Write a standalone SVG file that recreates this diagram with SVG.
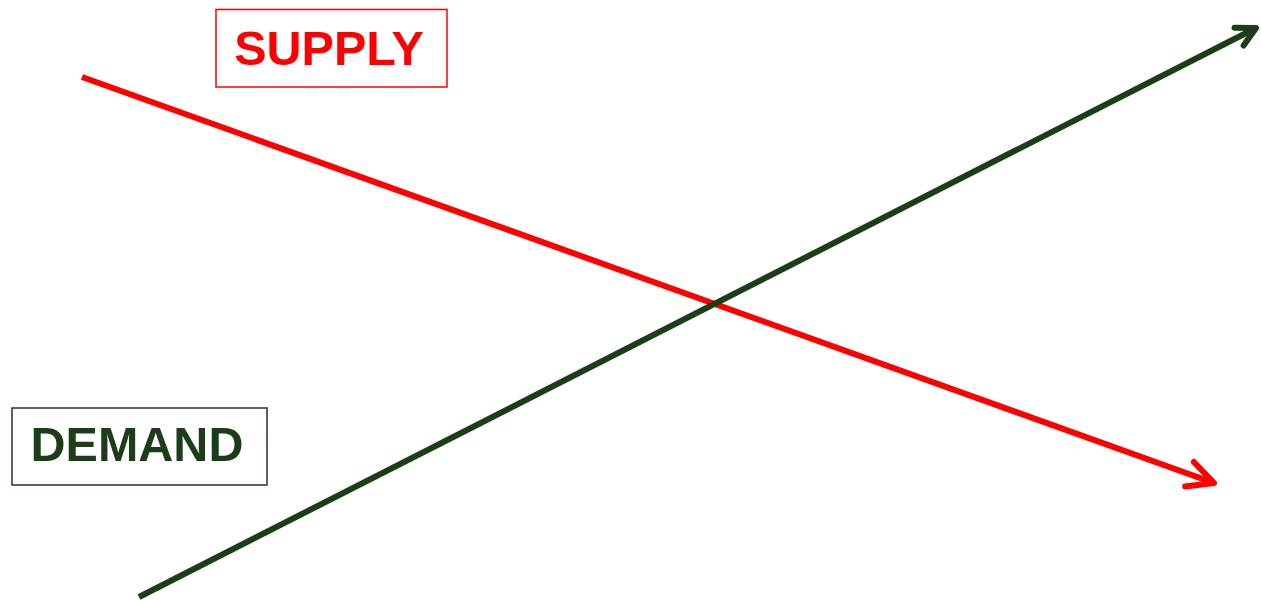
<svg xmlns="http://www.w3.org/2000/svg" width="1261" height="600" viewBox="0 0 1261 600">
<defs>
<style>
.lbl{font-family:"Liberation Sans",Arial,sans-serif;font-weight:bold;font-size:48.5px;text-anchor:middle}
</style>
<marker id="arRed" markerUnits="userSpaceOnUse" markerWidth="40" markerHeight="40" viewBox="-30 -20 40 40" refX="0" refY="0" orient="auto" overflow="visible">
<path d="M-26,-13 L0,0 L-26,13" fill="none" stroke="#ff0000" stroke-width="6" stroke-linecap="round" stroke-linejoin="round"/>
</marker>
<marker id="arGreen" markerUnits="userSpaceOnUse" markerWidth="40" markerHeight="40" viewBox="-30 -20 40 40" refX="0" refY="0" orient="auto" overflow="visible">
<path d="M-19,-10 L0,0 L-19,10" fill="none" stroke="#1b3d17" stroke-width="6" stroke-linecap="round" stroke-linejoin="round"/>
</marker>
</defs>
<rect width="1261" height="600" fill="#ffffff"/>
<g id="connectors">
<line x1="82" y1="77" x2="1214" y2="483" stroke="#ff0000" stroke-width="6" marker-end="url(#arRed)"/>
<line x1="139" y1="597" x2="1256" y2="28" stroke="#1b3d17" stroke-width="6" marker-end="url(#arGreen)"/>
</g>
<g id="supply">
<rect x="216" y="9.5" width="231" height="77.5" fill="none" stroke="#ff0000" stroke-width="1.5"/>
<text class="lbl" x="329" y="65" fill="#ff0000">SUPPLY</text>
</g>
<g id="demand">
<rect x="12" y="408" width="255" height="77" fill="none" stroke="#1b3d17" stroke-width="1.5"/>
<text class="lbl" x="137" y="461" fill="#1b3d17">DEMAND</text>
</g>
</svg>
